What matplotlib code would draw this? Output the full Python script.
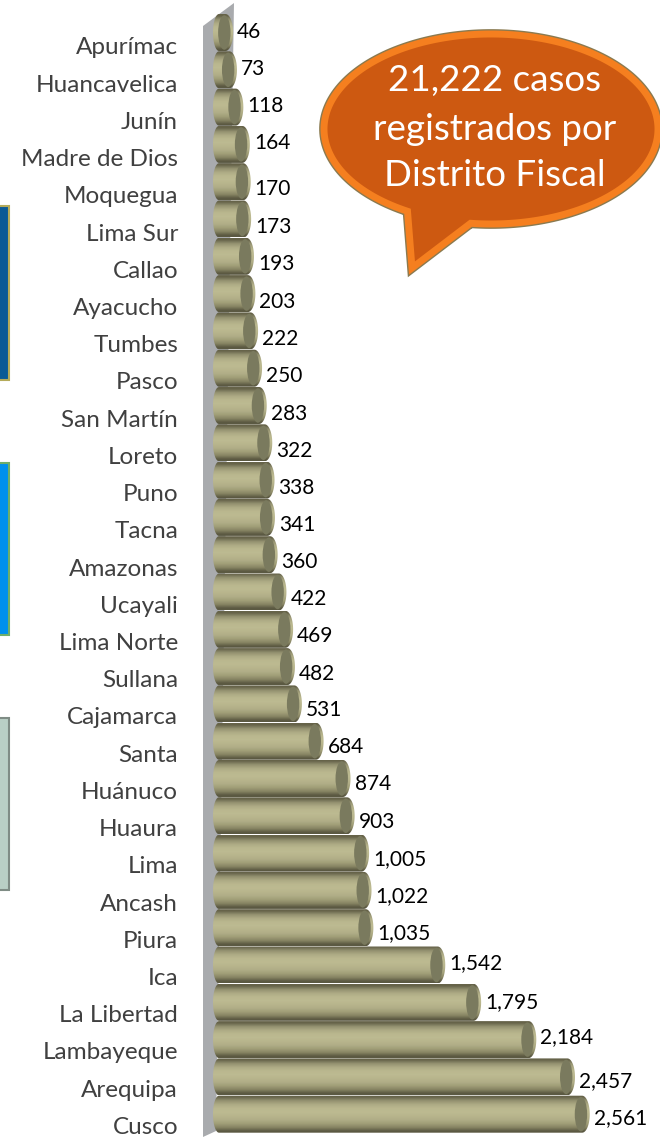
import matplotlib
matplotlib.use('Agg')
import matplotlib.pyplot as plt
import numpy as np
from matplotlib.patches import Polygon, Rectangle, Ellipse

plt.rcParams['font.family'] = ['Lato', 'DejaVu Sans']

distritos = ['Apurímac', 'Huancavelica', 'Junín', 'Madre de Dios', 'Moquegua', 'Lima Sur',
             'Callao', 'Ayacucho', 'Tumbes', 'Pasco', 'San Martín', 'Loreto', 'Puno', 'Tacna',
             'Amazonas', 'Ucayali', 'Lima Norte', 'Sullana', 'Cajamarca', 'Santa', 'Huánuco',
             'Huaura', 'Lima', 'Ancash', 'Piura', 'Ica', 'La Libertad', 'Lambayeque',
             'Arequipa', 'Cusco']
casos = [46, 73, 118, 164, 170, 173, 193, 203, 222, 250, 283, 322, 338, 341, 360, 422, 469,
         482, 531, 684, 874, 903, 1005, 1022, 1035, 1542, 1795, 2184, 2457, 2561]
# hand moved value labels, pixels below the bar centre
nudge = [0, -1, -1, -1, 7, 8, 8, 8, 8, 8, 8, 8, 8, 8, 7, 7, 7, 7, 6, 6, 6, 6, 6, 6, 5, -2, 0, -3, 4, 4]

# canvas, 1 unit = 1 pixel for the decoration layer
fig = plt.figure(figsize=(6.6, 11.37), dpi=100)
bg = fig.add_axes([0, 0, 1, 1])
bg.set_xlim(0, 660)
bg.set_ylim(1137, 0)
bg.axis('off')

# side boxes cut by the left edge
bg.add_patch(Rectangle((-5, 206), 14, 174, fc='#0a5a96', ec='#b5ab5a', lw=1.5))
bg.add_patch(Rectangle((-5, 463), 14, 172, fc='#0090ee', ec='#6fae6a', lw=1.5))
bg.add_patch(Rectangle((-5, 718), 14, 172, fc='#b9cfc5', ec='#7f8c85', lw=1.5))

# back wall of the 3D chart
bg.add_patch(Polygon([(203, 26), (234, 3), (216, 1131), (203, 1137)], fc='#a9abae', ec='none'))

# bars, x in cases, y in rows
ax = fig.add_axes([0, 0, 1, 1])
ax.patch.set_alpha(0)
ax.axis('off')
scale = 0.1418
x0 = 219
row0, row_step = 32.5, 37.3
xlim = (-x0 / scale, (660 - x0) / scale)
ylim = ((1137 - row0) / row_step, -row0 / row_step)

half = 18.5 / row_step
end_w = 7.6 / scale
left_w = 6 / scale
shade = np.array([[0.40, 0.39, 0.29], [0.58, 0.57, 0.44], [0.68, 0.67, 0.52], [0.73, 0.72, 0.56],
                  [0.74, 0.73, 0.57], [0.72, 0.71, 0.55], [0.69, 0.68, 0.53], [0.63, 0.62, 0.47],
                  [0.53, 0.52, 0.39], [0.36, 0.35, 0.26]])
shade = shade.reshape(-1, 1, 3)

t = np.linspace(np.pi / 2, 3 * np.pi / 2, 40)
for i, (nombre, v) in enumerate(zip(distritos, casos)):
    # body with elliptical ends, gradient clipped on it
    left = np.column_stack([left_w * np.cos(t), i + half * np.sin(t)])
    right = np.column_stack([v - end_w * np.cos(t), i - half * np.sin(t)])
    body = Polygon(np.vstack([left, right]), closed=True, fc='none', ec='none')
    ax.add_patch(body)
    im = ax.imshow(shade, extent=(-left_w, v + end_w, i + half, i - half), aspect='auto',
                   interpolation='bilinear', zorder=2 + i * 0.01)
    im.set_clip_path(body)
    ax.add_patch(Ellipse((v - 1.2 / scale, i), 2 * 6.2 / scale, 1.86 * half, fc='#7a7a5e', ec='none',
                         zorder=2 + i * 0.01 + 0.001))
    ax.annotate(f'{v:,}', xy=(v + end_w, i), xytext=(4, -nudge[i]), textcoords='offset pixels',
                ha='left', va='center', fontsize=15, color='black', zorder=5)
    ax.annotate(nombre, xy=(0, i), xytext=(178 - x0, -(15.5 - 0.08 * i)), textcoords='offset pixels',
                ha='right', va='center', fontsize=17.5, color='#404040', zorder=5)
ax.set_xlim(xlim)
ax.set_ylim(ylim)

# speech bubble
top = fig.add_axes([0, 0, 1, 1])
top.patch.set_alpha(0)
top.axis('off')
top.set_xlim(0, 660)
top.set_ylim(1137, 0)
ang = np.radians(np.linspace(120, 457, 200))
pts = np.column_stack([491 + 167 * np.cos(ang), 129 + 95 * np.sin(ang)])
pts = np.vstack([pts, [(412, 268)]])
top.add_patch(Polygon(pts, closed=True, fc='none', ec='#8a7a50', lw=7, joinstyle='miter', zorder=1))
top.add_patch(Polygon(pts, closed=True, fc='#cd5911', ec='#f57f1f', lw=5, joinstyle='miter', zorder=2))
top.text(495, 81, '21,222 casos', ha='center', va='center', fontsize=26.5, color='white', zorder=3)
top.text(495, 129, 'registrados por', ha='center', va='center', fontsize=26.5, color='white', zorder=3)
top.text(495, 176, 'Distrito Fiscal', ha='center', va='center', fontsize=26.5, color='white', zorder=3)

fig.savefig('out.png', dpi=100)
